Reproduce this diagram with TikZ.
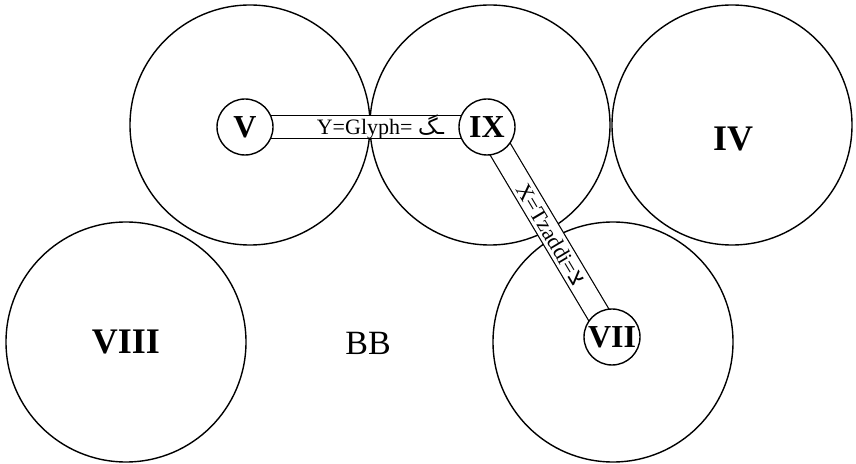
\documentclass[tikz,border=0pt]{standalone}
\usepackage{fontspec}
\setmainfont{Liberation Serif}
\newfontfamily\arabicfont[Script=Arabic]{DejaVu Sans}
\newfontfamily\hebrewfont[Script=Hebrew]{Liberation Sans}
\TeXXeTstate=1
\usepackage{tikz}
\usetikzlibrary{positioning}
\pgfdeclarelayer{front}
\pgfsetlayers{main,front}

\begin{document}
\begin{tikzpicture}[x=0.5pt, y=-0.5pt,
    zone/.style={circle, draw, line width=0.7pt, minimum size=120pt, inner sep=0pt},
    hub/.style={circle, draw, fill=white, line width=0.7pt, minimum size=28pt, inner sep=0pt, font=\fontsize{16}{18}\selectfont\bfseries},
    tag/.style={font=\fontsize{18}{20}\selectfont\bfseries},
    bar/.style={line width=0.6pt, double=white, double distance=11pt},
    barlabel/.style={sloped, font=\fontsize{11}{12}\selectfont, inner sep=1pt}
]
\useasboundingbox (0,0) rectangle (856,464);

% big circles
\node[zone] (zV) at (250,125) {};
\node[zone] (zIX) at (490,125) {};
\node[zone] (zIV) at (732,125) {};
\node[zone] (zVIII) at (126,342) {};
\node[zone] (zVII) at (613,342) {};

\node[tag] (IV) at (733,139) {IV};
\node[tag] (VIII) at (126,342) {VIII};
\node[font=\fontsize{17}{20}\selectfont] (BB) at (368,343) {BB};

% small circles on top of the bars
\begin{pgfonlayer}{front}
\node[hub] (V) at (245,127) {V};
\node[hub] (IX) at (487,127) {IX};
\node[hub] (VII) at (612,337) {VII};
\end{pgfonlayer}

\draw[bar] (V.center) -- (IX.center) node[barlabel, pos=0.56] (yglyph) {Y=Glyph= {\arabicfont\beginR ـگ\endR}};
\draw[bar] (IX.center) -- (VII.center) node[barlabel, pos=0.51] (xtzaddi) {X=Tzaddi={\hebrewfont\beginR צ\endR}};
\end{tikzpicture}
\end{document}
